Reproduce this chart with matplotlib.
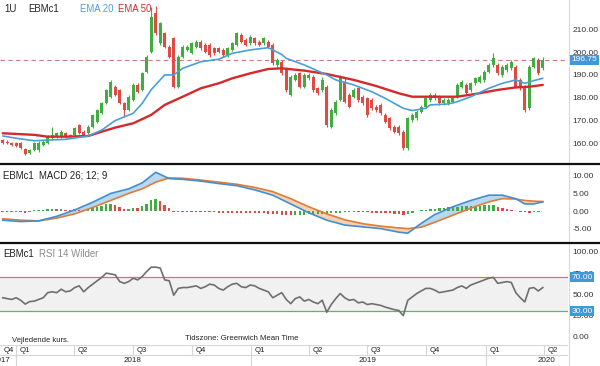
import numpy as np
import pandas as pd
import matplotlib
matplotlib.use("Agg")
import matplotlib.pyplot as plt
import matplotlib.transforms as mtransforms
from matplotlib.lines import Line2D

plt.rcParams['font.family'] = ['Liberation Sans', 'DejaVu Sans']

# ---------------- data ----------------
start_date = "2017-12-11"   # first weekly candle (Monday)
n_weeks = 121

opens = [161.3,160.6,160.2,160.0,159.9,157.4,155.5,156.9,157.0,159.1,
         159.9,162.1,162.8,162.8,164.3,163.5,163.5,168.0,165.0,164.3,
         167.2,169.4,173.1,177.5,180.4,184.8,183.4,177.5,174.6,179.0,
         185.6,183.4,191.4,200.2,217.1,203.9,208.3,202.4,206.1,184.8,
         198.0,201.0,199.5,202.4,204.6,203.2,203.2,201.7,201.7,201.0,
         198.8,201.0,203.2,207.6,205.4,203.9,206.1,204.6,203.9,204.6,
         203.2,194.4,195.8,192.9,181.2,187.8,190.7,184.8,188.5,189.2,
         184.1,183.4,184.8,167.2,173.1,179.0,187.0,181.2,180.4,184.1,
         180.4,179.7,179.0,176.0,176.8,172.4,170.9,167.2,167.2,165.0,
         157.7,170.2,170.9,173.8,176.0,179.0,179.7,180.4,177.5,177.5,
         178.2,180.4,184.8,185.6,183.4,186.3,187.0,187.8,191.4,194.4,
         194.4,190.0,192.2,192.9,193.6,187.8,184.8,175.3,193.6,196.6,
         192.9]
highs = [161.8,161.2,160.6,160.6,160.3,157.9,157.4,160.3,160.7,161.3,
         163.4,167.2,164.8,165.6,165.0,164.0,167.2,168.5,165.6,167.8,
         173.0,175.2,178.2,184.0,187.8,185.5,184.0,178.0,181.0,186.3,
         186.3,191.4,198.8,220.1,220.5,213.5,209.0,203.0,206.8,198.6,
         203.0,203.0,204.6,205.4,205.4,203.9,203.9,202.4,202.4,201.7,
         202.4,204.6,209.0,208.3,206.1,207.6,206.8,205.4,206.8,205.4,
         203.9,197.3,196.6,193.6,190.0,190.7,191.4,190.7,190.7,190.0,
         184.8,189.2,185.5,175.3,178.9,190.0,188.5,181.9,184.1,184.8,
         181.2,180.4,179.7,176.8,177.5,173.1,171.6,168.0,168.0,165.7,
         171.6,173.1,174.6,176.8,180.4,181.9,181.9,181.2,179.7,179.7,
         180.4,186.3,187.8,186.3,187.0,189.2,190.0,192.2,195.1,199.5,
         195.1,194.4,195.1,196.6,194.4,188.5,185.5,194.4,198.0,197.3,
         198.0]
lows = [159.6,159.4,158.6,158.2,157.2,154.7,155.0,156.4,156.0,158.6,
        159.5,161.6,162.3,162.3,162.3,162.3,163.0,163.8,163.0,163.8,
        166.8,169.0,172.6,177.0,180.0,180.6,177.0,171.6,174.0,178.5,
        182.0,183.0,190.9,199.5,207.5,203.0,201.8,197.3,184.2,184.2,
        197.5,200.5,199.0,201.8,201.0,199.5,198.0,198.8,199.5,198.0,
        198.0,200.5,202.6,204.0,202.6,203.2,203.2,202.6,203.2,201.8,
        194.4,193.6,190.0,182.6,180.6,187.2,184.1,184.1,187.8,182.6,
        181.2,182.6,167.2,166.5,172.4,178.5,177.5,175.3,179.7,178.2,
        176.8,171.6,174.6,173.8,172.4,168.7,165.7,164.3,163.5,156.9,
        156.9,169.4,170.2,173.1,175.3,178.2,179.0,176.8,176.8,176.8,
        177.5,179.7,184.1,181.2,182.6,185.6,186.3,187.0,190.7,193.6,
        190.0,189.2,191.4,192.2,184.1,183.4,173.8,174.6,192.9,190.0,
        192.2]
closes = [160.2,159.9,159.1,158.7,157.7,155.2,156.9,159.9,160.2,160.6,
          162.8,163.5,164.3,165.0,162.8,162.8,166.5,164.3,163.5,167.2,
          172.4,174.6,177.5,183.4,187.0,181.2,177.5,174.6,180.4,185.6,
          182.6,190.7,198.0,215.7,208.3,212.7,202.4,198.0,184.8,198.0,
          202.4,202.4,203.9,204.6,201.7,200.2,198.8,199.5,200.2,198.8,
          201.7,203.9,208.3,204.6,203.2,206.9,203.9,203.2,206.1,202.4,
          195.1,196.6,190.7,183.4,189.2,190.0,184.8,190.0,190.0,183.4,
          181.9,187.8,168.0,174.6,178.2,189.2,178.2,176.0,183.4,179.0,
          177.5,172.4,175.3,174.6,173.1,169.4,166.5,165.0,164.3,157.7,
          170.9,172.4,173.8,176.0,179.7,181.2,181.2,177.5,179.0,179.0,
          179.7,185.6,187.0,181.9,186.3,188.5,189.2,191.4,194.4,197.3,
          190.7,193.6,194.4,195.8,184.8,184.1,174.6,193.6,197.3,190.7,
          196.75]
last_price = 196.75

ema20_week = [0,3,7,10,14,19,22,25,29,31,33,36,38,40,44,48,51,55,59,62,63,67,72,74,78,82,85,89,91,94,95,99,101,104,108,111,114,116,118,120]
ema20_val = [163.1,162.1,161.0,161.3,161.6,163.1,165.7,169.9,173.1,177.5,183.5,190.0,190.0,192.9,195.8,196.9,199.5,201.0,202.0,199.0,197.3,194.4,190.0,187.8,185.6,182.6,179.7,175.3,174.3,175.3,176.8,177.2,178.2,180.4,184.1,186.3,187.8,186.3,187.5,188.5]
ema50_week = [0,7,10,14,19,22,25,29,33,36,40,44,48,51,55,59,62,67,72,78,83,88,91,96,101,105,110,114,117,120]
ema50_val = [164.3,163.6,162.8,162.8,163.1,165.0,166.8,168.7,172.4,176.8,180.4,184.1,186.3,188.5,190.7,192.6,192.9,191.9,190.4,187.8,185.1,181.9,180.4,180.4,180.4,181.6,183.4,184.5,184.8,185.6]

macd_week = [0,4,8,12,16,20,24,28,31,34,37,40,44,48,52,56,60,64,68,72,76,80,84,88,90,93,96,100,104,108,111,114,116,118,120]
macd_val = [-2.6,-3.0,-2.8,-1.5,0.3,2.5,5.0,6.3,8.0,11.0,9.2,9.0,8.5,7.8,7.2,6.0,4.5,2.0,-0.5,-2.6,-4.0,-4.5,-5.0,-6.0,-6.3,-3.5,-1.0,1.2,3.0,4.5,4.5,3.5,2.0,2.0,2.6]
signal_val = [-2.2,-2.6,-2.8,-2.0,-0.8,1.0,3.0,5.0,6.3,8.2,9.4,9.3,8.8,8.2,7.6,6.7,5.5,3.5,1.2,-0.8,-2.5,-3.6,-4.3,-4.8,-5.0,-4.6,-3.2,-1.2,0.8,2.6,3.5,3.4,3.0,2.8,2.7]
hist_val = [-0.3,-0.4,-0.3,-0.3,-0.4,-0.5,-0.3,0.2,0.3,0.3,
            0.5,0.6,0.5,0.6,0.4,0.3,0.5,0.4,0.3,0.6,
            0.9,1.2,1.5,2.0,2.1,1.6,1.0,0.5,0.6,0.9,
            0.8,1.3,2.0,3.0,3.4,2.9,1.8,0.9,-0.2,-0.22,
            -0.25,-0.27,-0.3,-0.32,-0.35,-0.37,-0.4,-0.42,-0.45,-0.47,
            -0.5,-0.52,-0.55,-0.57,-0.6,-0.62,-0.65,-0.67,-0.7,-0.72,
            -0.75,-0.9,-1.0,-1.1,-1.2,-1.1,-1.05,-1.0,-0.95,-0.9,
            -0.85,-0.8,-0.75,-0.7,-0.6,-0.5,-0.4,-0.35,-0.3,-0.32,
            -0.35,-0.4,-0.45,-0.5,-0.55,-0.6,-0.7,-0.8,-0.9,-1.0,
            -0.9,-0.5,-0.1,0.2,0.4,0.6,0.7,0.8,0.9,1.0,
            1.1,1.2,1.3,1.35,1.4,1.45,1.5,1.6,1.7,1.8,
            1.2,0.9,0.6,0.4,0.1,-0.3,-0.4,-0.5,-0.2,-0.15,
            0.05]

rsi_val = [46,45,44,46,43,38.5,41.5,42,44,46,
           52,53,52,56,53,54,58,60,53,58,
           62,66,70,75,74,73,65,63,65,69,
           67,71,77,82,82,81,67,66,49,57,
           58,58,59,60,57,59,62,61,57,55,
           59,62,63,59,58,61,60,57,55,53,
           46,49,52,44,39,45,47,42,44,41,
           39,43,29,38,45,51,46,43,44,40,
           41,38,39,38,37,35,33.5,32,31,25,
           43,47,51,54,57,57,55,52,53,54,
           55,58,60,57,61,63,65,67,69,70,
           63,64,65,64,52,46,41,57,58,54,
           58]

price_ticks = [160, 170, 180, 190, 200, 210]
macd_ticks = [-5, 0, 5, 10]
rsi_ticks = [0, 25, 50, 75, 100]
rsi_levels = [30, 70]

# ---------------- layout ----------------
W, H = 600, 366
PW = 568
fig = plt.figure(figsize=(W / 100, H / 100), dpi=100)
fig.patch.set_facecolor("white")

def ax_px(left, top, width, height):
    return fig.add_axes([left / W, 1 - (top + height) / H, width / W, height / H])

XMIN, XMAX = -0.6, 125.6
GREEN = "#3fae3f"
RED = "#de4b45"
TXT = "#333333"
BLUE_BOX = "#3d9ad8"
FS_TICK = 6.0
FS_TITLE = 6.9

def style(ax, ylim, ticks, fmt="{:.2f}"):
    ax.set_xlim(XMIN, XMAX)
    ax.set_ylim(*ylim)
    for s in ax.spines.values():
        s.set_visible(False)
    ax.set_xticks([])
    ax.yaxis.tick_right()
    ax.set_yticks(ticks)
    ax.set_yticklabels([fmt.format(t) for t in ticks])
    ax.tick_params(axis="y", length=0, pad=3.2, labelsize=FS_TICK, labelcolor=TXT)
    for lab in ax.get_yticklabels():
        lab.set_horizontalalignment("left")

def value_box(ax, y, text):
    tr = mtransforms.blended_transform_factory(ax.transAxes, ax.transData)
    ax.text(1 + 3.5 / PW, y, text, transform=tr, ha="left", va="center",
            fontsize=FS_TICK, color="white", clip_on=False, zorder=10,
            bbox=dict(boxstyle="square,pad=0.18", fc=BLUE_BOX, ec="none"))

x = np.arange(n_weeks)
o = np.array(opens); c = np.array(closes); hi = np.array(highs); lo = np.array(lows)
up = c >= o

# ---- price panel ----
ax1 = ax_px(0, 0, PW, 163)
style(ax1, (151.2, 223.0), price_ticks)
cols = np.where(up, GREEN, RED)
ax1.vlines(x, lo, hi, colors=cols, lw=0.8, zorder=2)
body = np.where(np.abs(c - o) < 0.35, 0.35 * np.where(up, 1, -1), c - o)
ax1.bar(x, body, bottom=o, width=0.6, color=cols, zorder=3, linewidth=0)
ax1.plot(ema50_week, ema50_val, color="#d42a2a", lw=1.7, zorder=4, solid_capstyle="round")
ax1.plot(ema20_week, ema20_val, color="#4a9fd6", lw=1.2, zorder=5, solid_capstyle="round")
ax1.axhline(last_price, color="#c88080", lw=0.8, ls=(0, (4, 3)), zorder=1)
value_box(ax1, last_price, f"{last_price:.2f}")

def ptext(ax, axh, px, py, s, color, fs=FS_TITLE):
    ax.text(px / PW, 1 - py / axh, s, transform=ax.transAxes, ha="left", va="center",
            fontsize=fs, color=color, zorder=12)

ptext(ax1, 163, 4, 9, "1U", "#222222")
ptext(ax1, 163, 28, 9, "EBMc1", "#222222")
ptext(ax1, 163, 80, 9, "EMA 20", "#4a9fd6")
ptext(ax1, 163, 118, 9, "EMA 50", "#d42a2a")

# ---- MACD panel ----
ax2 = ax_px(0, 165, PW, 77)
style(ax2, (-8.8, 13.07), macd_ticks)
mv = np.array(macd_val); sv = np.array(signal_val)
ax2.fill_between(macd_week, mv, sv, where=mv >= sv, interpolate=True, color="#b9d8ee", lw=0, zorder=1)
ax2.fill_between(macd_week, mv, sv, where=mv < sv, interpolate=True, color="#f6d2b5", lw=0, zorder=1)
hv = np.array(hist_val)
prev = np.concatenate([[hv[0]], hv[:-1]])
hcols = np.where(hv >= prev, GREEN, RED)
ax2.bar(x, hv, width=0.55, color=hcols, zorder=2, linewidth=0)
ax2.plot(macd_week, signal_val, color="#e07b39", lw=1.2, zorder=3)
ax2.plot(macd_week, macd_val, color="#3f8fd2", lw=1.2, zorder=4)
ptext(ax2, 77, 3, 11, "EBMc1  MACD 26; 12; 9", "#222222")

# ---- RSI panel ----
ax3 = ax_px(0, 244, PW, 101)
style(ax3, (-9.65, 109.3), rsi_ticks)
ax3.axhspan(rsi_levels[0], rsi_levels[1], color="#f1f1f1", lw=0, zorder=0)
ax3.axhline(rsi_levels[1], color="#e0705f", lw=0.9, zorder=1)
ax3.axhline(rsi_levels[0], color="#5cb85c", lw=0.9, zorder=1)
ax3.plot(x, rsi_val, color="#6f6f6f", lw=1.2, zorder=3)
for lv in rsi_levels[::-1]:
    value_box(ax3, lv, f"{lv:.2f}")
ax3.text(3 / PW, 1 - 10 / 101, "EBMc1", transform=ax3.transAxes, ha="left", va="center",
         fontsize=FS_TITLE, color="#222222")
ax3.text(39 / PW, 1 - 10 / 101, "RSI 14 Wilder", transform=ax3.transAxes, ha="left", va="center",
         fontsize=FS_TITLE, color="#8a8a8a")
ax3.text(12 / PW, 1 - 96 / 101, "Vejledende kurs.", transform=ax3.transAxes, ha="left",
         va="center", fontsize=5.5, color="#222222", zorder=12)
ax3.text(185 / PW, 1 - 95 / 101, "Tidszone: Greenwich Mean Time", transform=ax3.transAxes,
         ha="left", va="center", fontsize=5.6, color="#222222", zorder=12)

# ---- date band ----
axb = ax_px(0, 345, PW, 21)
axb.set_xlim(XMIN, XMAX)
axb.set_ylim(0, 1)
axb.axis("off")
GRID = "#d6d6d6"
mid = 1 - 10 / 21
axb.axhline(1, color=GRID, lw=0.8)
axb.axhline(mid, color=GRID, lw=0.8)
start = pd.Timestamp(start_date)

def widx(d):
    return (pd.Timestamp(d) - start).days / 7.0

for q in pd.date_range("2017-10-01", "2020-04-01", freq="QS"):
    xi = widx(q)
    if xi > XMIN:
        axb.plot([xi, xi], [mid, 1], color=GRID, lw=0.8)
    axb.text(max(xi, XMIN) + 0.8, (1 + mid) / 2, f"Q{q.quarter}", ha="left", va="center",
             fontsize=5.6, color="#222222")
for yr in [2017, 2018, 2019, 2020]:
    xi = widx(f"{yr}-01-01")
    if xi > XMIN:
        axb.plot([xi, xi], [0, mid], color=GRID, lw=0.8)
    cx = min(max(widx(f"{yr}-07-01"), XMIN + 0.4), XMAX - 4.7)
    axb.text(cx, mid / 2, str(yr), ha="center", va="center", fontsize=5.8,
             color="#222222", clip_on=True)

# separators and right axis line
for yy in (163.8, 243.0):
    fig.add_artist(Line2D([0, 1], [1 - yy / H, 1 - yy / H], color="#111111", lw=1.6,
                          transform=fig.transFigure))
fig.add_artist(Line2D([PW / W + 0.5 / W] * 2, [0, 1], color="#d8d8d8", lw=0.8,
                      transform=fig.transFigure, zorder=0))

fig.savefig("out.png", dpi=100, facecolor="white")
